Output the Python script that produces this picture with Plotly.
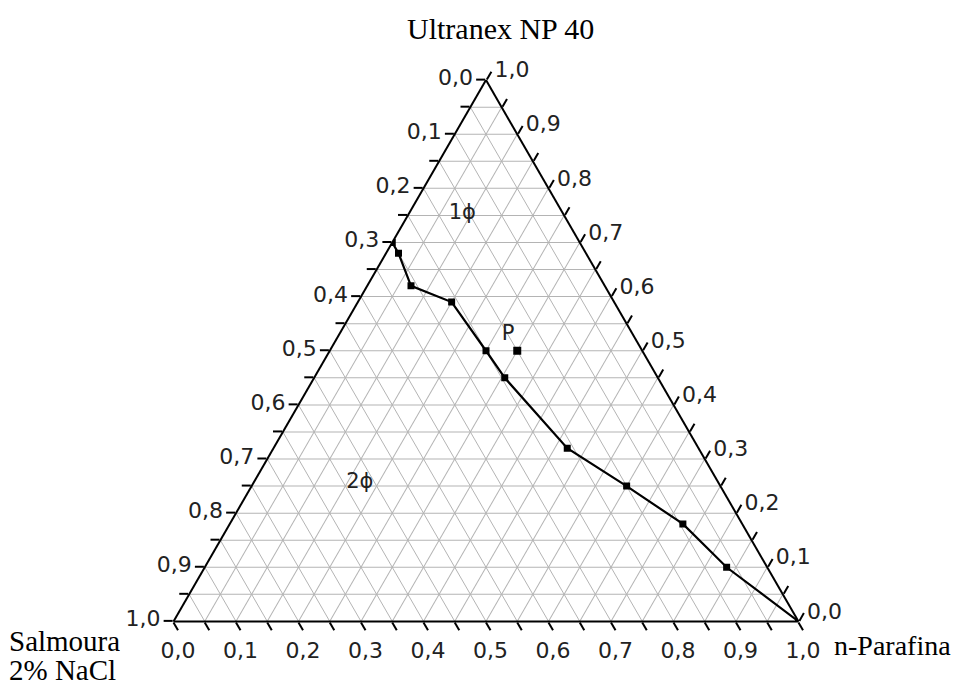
import plotly.graph_objects as go

# Composition data (fractions): a = Ultranex NP 40, b = Salmoura 2% NaCl, c = n-Parafina
ultranex = [0.70, 0.68, 0.62, 0.59, 0.50, 0.45, 0.32, 0.25, 0.18, 0.10, 0.00]
salmoura = [0.30, 0.30, 0.31, 0.26, 0.25, 0.245, 0.21, 0.15, 0.095, 0.065, 0.00]
parafina = [0.00, 0.02, 0.07, 0.15, 0.25, 0.305, 0.47, 0.60, 0.725, 0.835, 1.00]

# Point P
p_ultranex = [0.50]
p_salmoura = [0.20]
p_parafina = [0.30]

# Region labels
label_text = ["1ϕ", "2ϕ", "P"]
label_ultranex = [0.754, 0.256, 0.529]
label_salmoura = [0.161, 0.574, 0.200]
label_parafina = [0.085, 0.170, 0.271]

tick_vals = [i / 20 for i in range(21)]
tick_text = [("%.1f" % (1 - v)).replace(".", ",") if i % 2 == 0 else "" for i, v in enumerate(tick_vals)]

# page offset (browser body margin) compensation
OFF = 8
W, H = 962 - OFF, 688 - OFF


def px(x):
    return (x - OFF) / W


def py(y):
    return 1 - (y - OFF) / H


fig = go.Figure()
fig.add_trace(go.Scatterternary(
    a=ultranex, b=salmoura, c=parafina, mode="lines+markers",
    line=dict(color="black", width=2.2),
    marker=dict(symbol="square", size=7, color="black"),
    showlegend=False, hoverinfo="skip"))
fig.add_trace(go.Scatterternary(
    a=p_ultranex, b=p_salmoura, c=p_parafina, mode="markers",
    marker=dict(symbol="square", size=8, color="black"),
    showlegend=False, hoverinfo="skip"))
fig.add_trace(go.Scatterternary(
    a=label_ultranex, b=label_salmoura, c=label_parafina, mode="text",
    text=label_text, textfont=dict(family="DejaVu Sans", size=21, color="#222"),
    showlegend=False, hoverinfo="skip"))

axis_common = dict(
    tickvals=tick_vals, ticktext=tick_text, ticks="outside", ticklen=9,
    tickwidth=1.5, tickcolor="black",
    linecolor="black", linewidth=2, showline=True,
    showgrid=True, gridcolor="#b4b4b4", gridwidth=1,
    tickfont=dict(family="DejaVu Sans", size=22, color="#222"),
    title=dict(text=""), min=0,
)

title_font = dict(family="Liberation Serif, Times New Roman", size=30, color="black")
side_font = dict(family="Liberation Serif, Times New Roman", size=29, color="black")

fig.update_layout(
    width=W, height=H,
    margin=dict(l=0, r=0, t=0, b=0),
    paper_bgcolor="white",
    ternary=dict(
        sum=1,
        bgcolor="white",
        domain=dict(x=[px(173.5), px(798.5)], y=[py(621.5), py(80)]),
        aaxis=axis_common,
        baxis=axis_common,
        caxis=axis_common,
    ),
    annotations=[
        dict(text="Ultranex NP 40", x=px(501), y=py(28), xref="paper", yref="paper",
             xanchor="center", yanchor="middle", showarrow=False, font=title_font),
        dict(text="Salmoura", x=px(8), y=py(641), xref="paper", yref="paper",
             xanchor="left", yanchor="middle", showarrow=False, font=side_font,
             height=28, borderpad=0),
        dict(text="2% NaCl", x=px(8), y=py(670), xref="paper", yref="paper",
             xanchor="left", yanchor="middle", showarrow=False, font=side_font,
             height=28, borderpad=0),
        dict(text="n-Parafina", x=px(832), y=py(645), xref="paper", yref="paper",
             xanchor="left", yanchor="middle", showarrow=False,
             font=dict(family="Liberation Serif, Times New Roman", size=28, color="black")),
    ],
)

fig.write_html("out.html")
